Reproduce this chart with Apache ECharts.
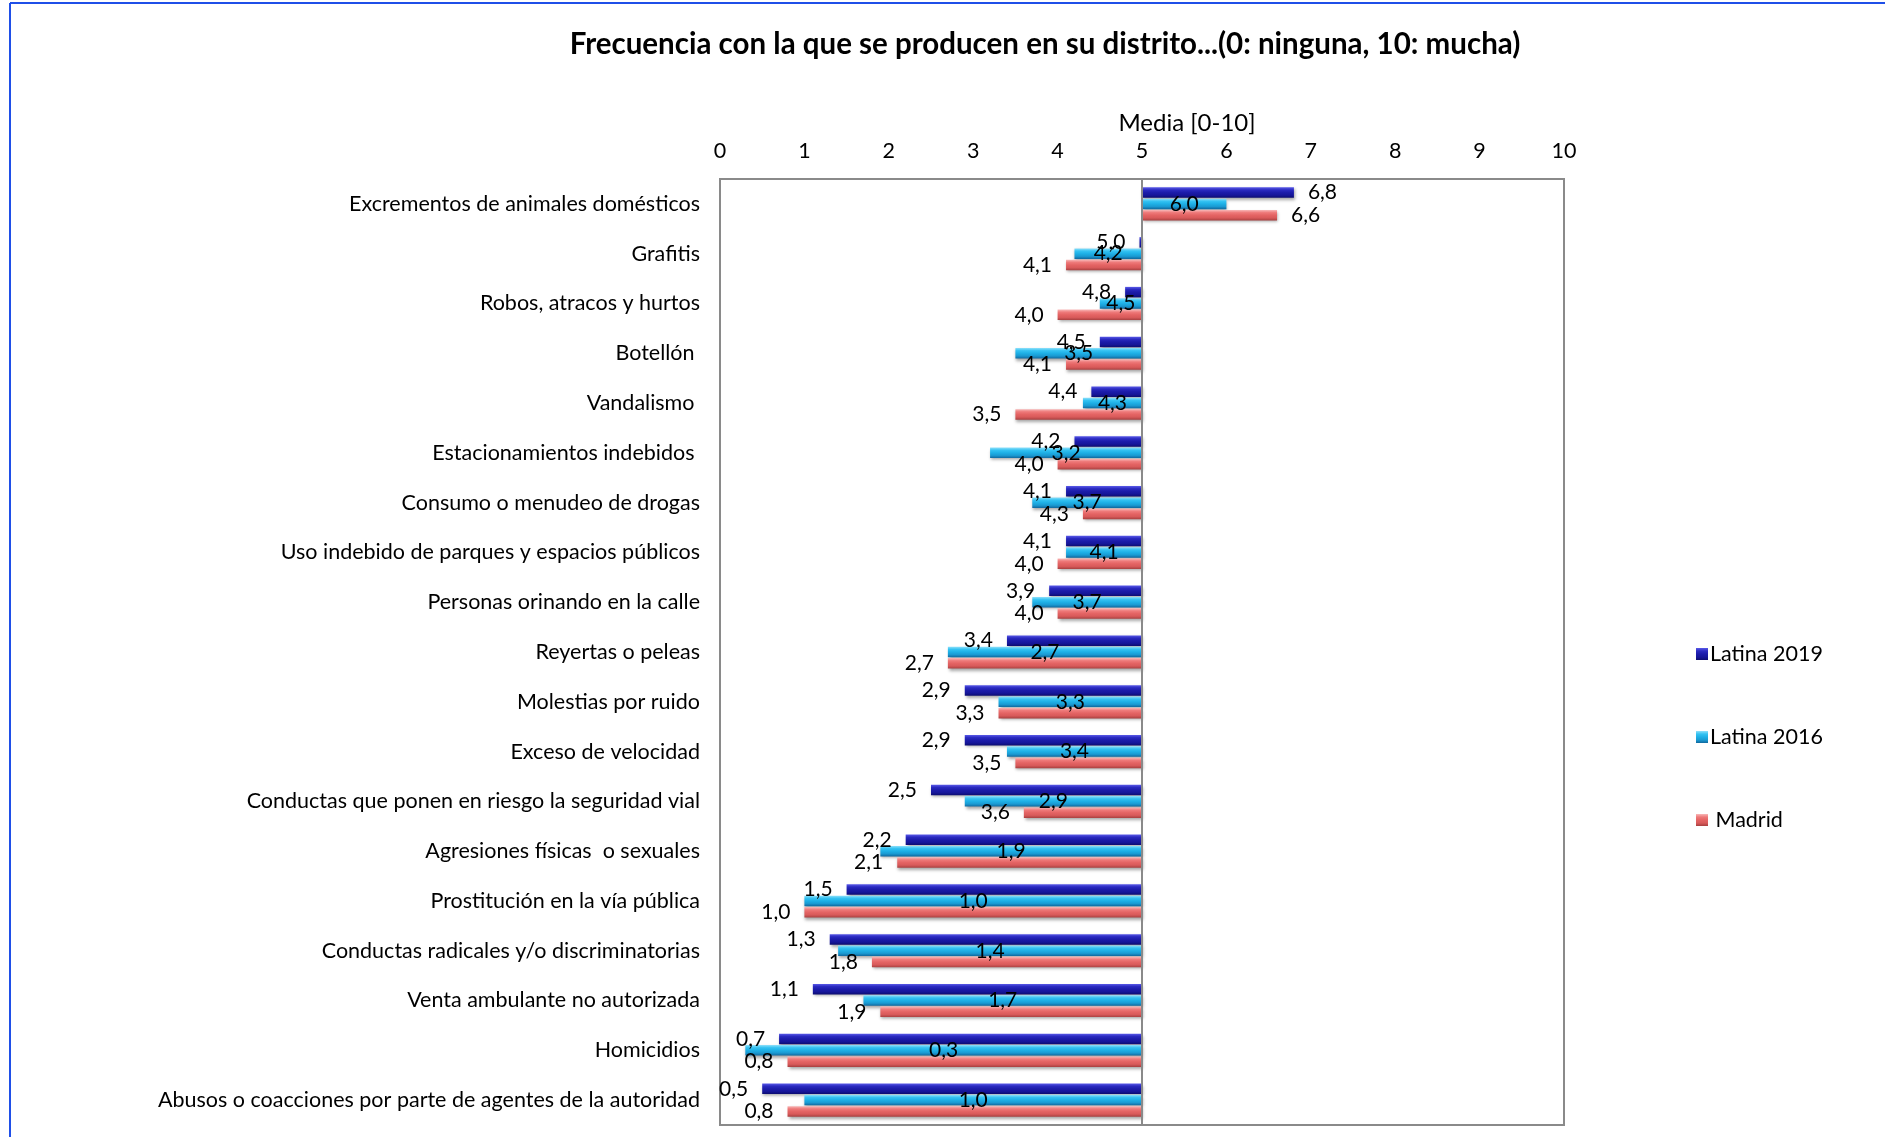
<!DOCTYPE html>
<html>
<head>
<meta charset="utf-8">
<script src="https://cdn.jsdelivr.net/npm/echarts@6/dist/echarts.min.js"></script>
<style>
html,body{margin:0;padding:0;background:#fff;}
#c{width:1885px;height:1137px;}
</style>
</head>
<body>
<div id="c"></div>
<script>
const categories = [
  'Excrementos de animales domésticos',
  'Grafitis',
  'Robos, atracos y hurtos',
  'Botellón ',
  'Vandalismo ',
  'Estacionamientos indebidos ',
  'Consumo o menudeo de drogas',
  'Uso indebido de parques y espacios públicos',
  'Personas orinando en la calle',
  'Reyertas o peleas',
  'Molestias por ruido',
  'Exceso de velocidad',
  'Conductas que ponen en riesgo la seguridad vial',
  'Agresiones físicas  o sexuales',
  'Prostitución en la vía pública',
  'Conductas radicales y/o discriminatorias',
  'Venta ambulante no autorizada',
  'Homicidios',
  'Abusos o coacciones por parte de agentes de la autoridad'
];
const latina2019 = [6.8, 4.97, 4.8, 4.5, 4.4, 4.2, 4.1, 4.1, 3.9, 3.4, 2.9, 2.9, 2.5, 2.2, 1.5, 1.3, 1.1, 0.7, 0.5];
const latina2016 = [6.0, 4.2, 4.5, 3.5, 4.3, 3.2, 3.7, 4.1, 3.7, 2.7, 3.3, 3.4, 2.9, 1.9, 1.0, 1.4, 1.7, 0.3, 1.0];
const madrid     = [6.6, 4.1, 4.0, 4.1, 3.5, 4.0, 4.3, 4.0, 4.0, 2.7, 3.3, 3.5, 3.6, 2.1, 1.0, 1.8, 1.9, 0.8, 0.8];
const seriesNames = ['Latina 2019', 'Latina 2016', ' Madrid'];
const axisTicks = [0,1,2,3,4,5,6,7,8,9,10];
const BASE = 5; // bars grow from the scale midpoint

const FONT = 'Lato, "Noto Sans", sans-serif';
const fmt = v => v.toFixed(1).replace('.', ',');

function grad(stops){
  return new echarts.graphic.LinearGradient(0,0,0,1, stops.map((c,i)=>({offset:i/(stops.length-1), color:c})));
}
const colors = [
  grad(['#5a5ae8','#2a2ac0','#1c1caa','#16169a','#0c0c70']),
  grad(['#8ee0fa','#34c2f2','#1eb0e6','#1a9ad2','#10689e']),
  grad(['#f8b8b8','#ee7a7a','#e46464','#d85a5a','#a84040'])
];

function mkData(arr, outside){
  return arr.map(v => {
    const d = {value: v - BASE, real: v};
    if (outside) d.label = {position: v >= BASE ? 'right' : 'left'};
    return d;
  });
}

const labelStyle = {fontFamily: FONT, fontSize: 21, color: '#000'};

function mkSeries(i, arr, outside){
  return {
    name: seriesNames[i],
    type: 'bar',
    barWidth: 10.5,
    barGap: '8%',
    data: mkData(arr, outside),
    itemStyle: {
      color: colors[i],
      shadowColor: 'rgba(0,0,0,0.35)', shadowBlur: 3, shadowOffsetY: 2, shadowOffsetX: 1
    },
    label: Object.assign({
      show: true,
      position: outside ? 'right' : 'inside',
      distance: 14,
      formatter: p => fmt(p.data.real)
    }, labelStyle),
    emphasis: {disabled: true},
    animation: false
  };
}

const s0 = mkSeries(0, latina2019, true);
const s1 = mkSeries(1, latina2016, false);
const s2 = mkSeries(2, madrid, true);
s0.markLine = {
  silent: true, symbol: 'none', label: {show: false},
  lineStyle: {color: '#8a8a8a', width: 2, type: 'solid'},
  data: [{xAxis: 0}],
  animation: false
};

const option = {
  backgroundColor: '#fff',
  animation: false,
  title: {
    text: 'Frecuencia con la que se producen en su distrito...(0: ninguna, 10: mucha)',
    left: 1040, top: 24, textAlign: 'center',
    textStyle: {fontFamily: FONT, fontSize: 29.5, fontWeight: 'bold', color: '#000'}
  },
  legend: {
    orient: 'vertical',
    left: 1691, top: 638,
    itemWidth: 12, itemHeight: 12, itemGap: 61,
    icon: 'rect',
    textStyle: {fontFamily: FONT, fontSize: 21.5, color: '#000', lineHeight: 22, padding: [0,0,0,-3]},
    data: seriesNames
  },
  grid: {
    left: 720, right: 321, top: 179, bottom: 12,
    show: true, borderColor: '#8a8a8a', borderWidth: 2, backgroundColor: 'transparent',
    containLabel: false
  },
  xAxis: {
    type: 'value', position: 'top',
    min: axisTicks[0] - BASE, max: axisTicks[axisTicks.length-1] - BASE, interval: 1,
    name: 'Media [0-10]', nameLocation: 'middle', nameGap: 43,
    nameTextStyle: {fontFamily: FONT, fontSize: 24, color: '#000', padding: [0,0,0,90]},
    axisLine: {show: false}, axisTick: {show: false}, splitLine: {show: false},
    axisLabel: {fontFamily: FONT, fontSize: 21.5, color: '#000', margin: 17,
      formatter: v => String(Math.round(v + BASE))}
  },
  yAxis: {
    type: 'category', inverse: true, data: categories,
    axisLine: {show: false}, axisTick: {show: false},
    axisLabel: {fontFamily: FONT, fontSize: 21.5, color: '#000', margin: 20}
  },
  graphic: [
    {type: 'line', shape: {x1: 10, y1: 3, x2: 1885, y2: 3}, style: {stroke: '#1f4fe8', lineWidth: 2}},
    {type: 'line', shape: {x1: 10, y1: 3, x2: 10, y2: 1137}, style: {stroke: '#1f4fe8', lineWidth: 2}}
  ],
  series: [s0, s1, s2]
};

const chart = echarts.init(document.getElementById('c'), null, {renderer: 'canvas'});
chart.setOption(option);
</script>
</body>
</html>
